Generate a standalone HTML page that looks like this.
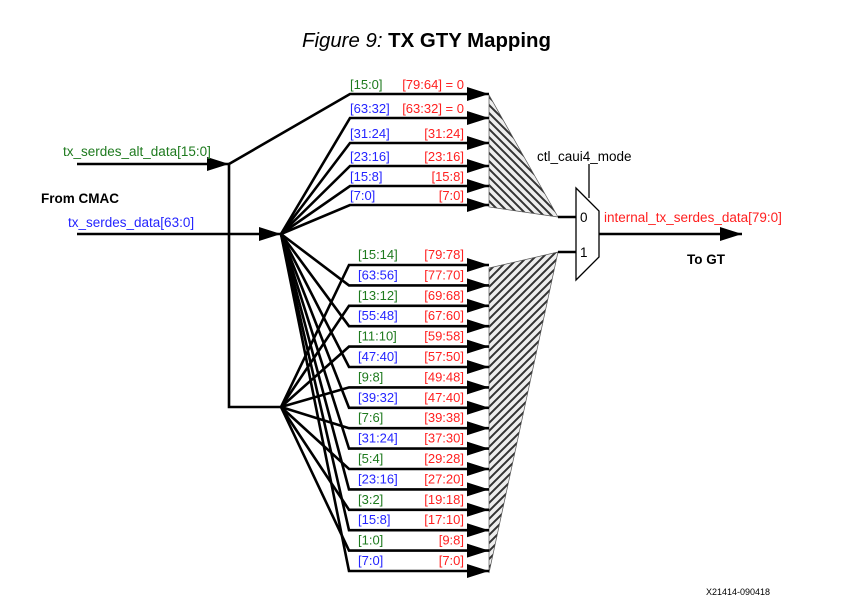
<!DOCTYPE html>
<html><head><meta charset="utf-8">
<style>
html,body{margin:0;padding:0;background:#fff;}
svg{display:block;font-family:"Liberation Sans",sans-serif;}
</style></head>
<body>
<svg id="fig" width="865" height="595" viewBox="0 0 865 595" xmlns="http://www.w3.org/2000/svg">
<defs>
<pattern id="hatchA" patternUnits="userSpaceOnUse" width="8" height="8">
<rect width="8" height="8" fill="#eee"/><path d="M-2,-2 L10,10 M-2,6 L2,10 M6,-2 L10,2" stroke="#333" stroke-width="2"/>
</pattern>
<pattern id="hatchB" patternUnits="userSpaceOnUse" width="8" height="8">
<rect width="8" height="8" fill="#eee"/><path d="M-2,10 L10,-2 M-2,2 L2,-2 M6,10 L10,6" stroke="#333" stroke-width="2"/>
</pattern>
</defs>
<text x="302" y="47" font-size="20" textLength="249" lengthAdjust="spacingAndGlyphs"><tspan font-style="italic">Figure 9:</tspan><tspan font-weight="bold"> TX GTY Mapping</tspan></text>

<polygon points="489,95 489,207 558,217" fill="url(#hatchA)" stroke="#555" stroke-width="0.7"/>
<polygon points="489,268 558,252 489,573" fill="url(#hatchB)" stroke="#555" stroke-width="0.7"/>

<g id="wires" stroke="#000" stroke-width="2.6" fill="none"></g>
<g id="arrows" fill="#000"></g>
<g id="labels" font-size="13"></g>

<text x="63" y="156" font-size="13.5" fill="#1e7a1e">tx_serdes_alt_data[15:0]</text>
<text x="41" y="203" font-size="13.5" font-weight="bold">From CMAC</text>
<text x="68" y="227" font-size="13.5" fill="#2424ff">tx_serdes_data[63:0]</text>

<polygon points="576,188 599,211 599,257 576,280" fill="#fff" stroke="#000" stroke-width="1.3"/>
<line x1="589" y1="164" x2="589" y2="198" stroke="#000" stroke-width="1.3"/>
<text x="537" y="161" font-size="13.5">ctl_caui4_mode</text>
<text x="580" y="222" font-size="13.5">0</text>
<text x="580" y="257" font-size="13.5">1</text>
<text x="604" y="222" font-size="13.5" fill="#ff2020">internal_tx_serdes_data[79:0]</text>
<text x="687" y="264" font-size="13.5" font-weight="bold">To GT</text>
<text x="706" y="595" font-size="9">X21414-090418</text>
</svg>
<script>
// top group (mux input 0)
const topSrc = ["[15:0]","[63:32]","[31:24]","[23:16]","[15:8]","[7:0]"];
const topDst = ["[79:64] = 0","[63:32] = 0","[31:24]","[23:16]","[15:8]","[7:0]"];
const topSrcKind = ["alt","data","data","data","data","data"];
const topY = [94,118,143,166,186,205];
// bottom group (mux input 1)
const botSrc = ["[15:14]","[63:56]","[13:12]","[55:48]","[11:10]","[47:40]","[9:8]","[39:32]","[7:6]","[31:24]","[5:4]","[23:16]","[3:2]","[15:8]","[1:0]","[7:0]"];
const botDst = ["[79:78]","[77:70]","[69:68]","[67:60]","[59:58]","[57:50]","[49:48]","[47:40]","[39:38]","[37:30]","[29:28]","[27:20]","[19:18]","[17:10]","[9:8]","[7:0]"];

const NS="http://www.w3.org/2000/svg";
const wires=document.getElementById('wires'), arrows=document.getElementById('arrows'), labels=document.getElementById('labels');
const GREEN="#1e7a1e", BLUE="#2424ff", RED="#ff2020";
function line(pts,name){
  const p=document.createElementNS(NS,'polyline');
  p.setAttribute('points',pts.map(q=>q.join(',')).join(' '));
  
  
  wires.appendChild(p);
}
function arrow(x,y,name){
  const p=document.createElementNS(NS,'polygon');
  p.setAttribute('points',`${x},${y} ${x-22},${y-7} ${x-22},${y+7}`);
  
  
  arrows.appendChild(p);
}
function text(x,y,s,col,anchor,name){
  const t=document.createElementNS(NS,'text');
  t.setAttribute('x',x);t.setAttribute('y',y);t.setAttribute('fill',col);
  if(anchor)t.setAttribute('text-anchor',anchor);
  t.textContent=s;
  
  
  labels.appendChild(t);
}
const altFan=[229,164], dataFan=[281,234], altFan2=[281,407];
line([[77,164],[229,164],[229,407],[281,407]],'alt-data-wire');
arrow(229,164,'alt-data-arrow');
line([[77,234],[281,234]],'data-wire');
arrow(281,234,'data-arrow');
topSrc.forEach((s,i)=>{
  const y=topY[i];
  const f= topSrcKind[i]==="alt"?altFan:dataFan;
  line([f,[350,y],[489,y]],'top-row-wire');
  arrow(489,y,'top-row-arrow');
  text(350,y-5,s,topSrcKind[i]==="alt"?GREEN:BLUE,null,'top-row-src-label');
  text(464,y-5,topDst[i],RED,'end','top-row-dst-label');
});
botSrc.forEach((s,k)=>{
  const y=265+k*20.4;
  const alt=k%2===0;
  line([alt?altFan2:dataFan,[349,y],[489,y]],'bottom-row-wire');
  arrow(489,y,'bottom-row-arrow');
  text(358,y-6,s,alt?GREEN:BLUE,null,'bottom-row-src-label');
  text(464,y-6,botDst[k],RED,'end','bottom-row-dst-label');
});
line([[558,217],[576,217]],'mux-input-0-wire');
line([[558,252],[576,252]],'mux-input-1-wire');
line([[599,234],[742,234]],'output-wire');
arrow(742,234,'output-arrow');
</script>
</body></html>
